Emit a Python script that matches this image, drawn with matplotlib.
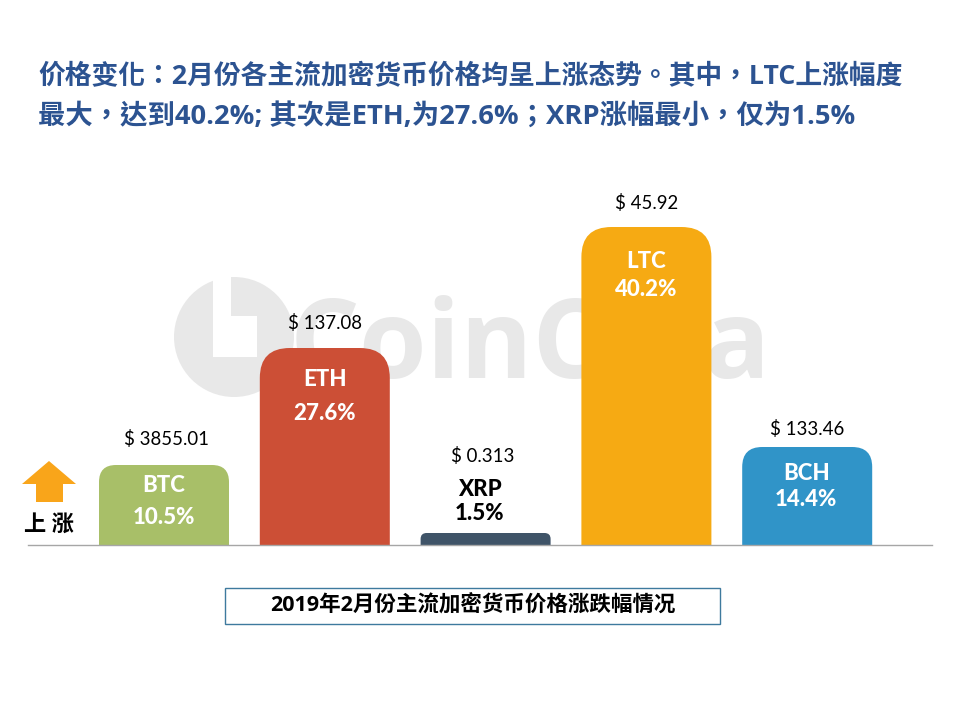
import matplotlib
matplotlib.use('Agg')
import matplotlib.pyplot as plt
from matplotlib.patches import PathPatch, Circle, Rectangle, Polygon
from matplotlib.path import Path

FONTS = ['Lato', 'Noto Sans CJK TC', 'DejaVu Sans']
TITLE_FONTS = ['Open Sans', 'Noto Sans CJK TC', 'DejaVu Sans']
plt.rcParams['font.family'] = FONTS

# ---- Data ----
coins = ['BTC', 'ETH', 'XRP', 'LTC', 'BCH']
changes = ['10.5%', '27.6%', '1.5%', '40.2%', '14.4%']
prices = ['$ 3855.01', '$ 137.08', '$ 0.313', '$ 45.92', '$ 133.46']
bar_heights = [80, 197, 12, 318, 98]
title_lines = ['价格变化：2月份各主流加密货币价格均呈上涨态势。其中，LTC上涨幅度',
               '最大，达到40.2%; 其次是ETH,为27.6%；XRP涨幅最小，仅为1.5%']
caption = '2019年2月份主流加密货币价格涨跌幅情况'
up_label = '上 涨'

# ---- Style ----
colors = ['#A8BF68', '#CC4F36', '#3F5468', '#F6AA13', '#3094C8']
radii = [17, 30, 6, 30, 20]
label_colors = ['white', 'white', 'black', 'white', 'white']
# name/percent label heights above the baseline, px
name_y = [60, 166, 56, 284, 71]
pct_y = [28, 131, 31, 255, 46]
price_y = [106, 222, 89, 342, 116]
# sideways shift of the labels off the bar centre, px
label_dx = [0, 0, -6, 0, -1]
price_dx = [2, 0, -3, 0, 0]
title_sizes = [19.3, 19.7]
TITLE_COLOR = '#2C5391'
WATERMARK = '#E8E8E8'
STEP = 160.8

fig = plt.figure(figsize=(9.6, 7.2), dpi=100)

# page axes in pixel coordinates, for the watermark, arrow and caption
page = fig.add_axes([0, 0, 1, 1], zorder=0)
page.set_xlim(0, 960)
page.set_ylim(720, 0)
page.axis('off')

# logo: grey disc with a white L cut out
page.add_patch(Circle((234, 337), 60, fc=WATERMARK, ec='none'))
page.add_patch(Polygon([(213, 270), (231, 270), (231, 316), (257, 316), (257, 357), (213, 357)],
                       closed=True, fc='white', ec='none'))
page.text(290, 378, 'CoinCola', fontsize=79, fontweight='bold', color=WATERMARK,
          ha='left', va='baseline', family=['Open Sans', 'DejaVu Sans'])

# arrow and its label
page.add_patch(Polygon([(22, 484), (49, 461), (76, 484), (63, 484), (63, 502), (36, 502), (36, 484)],
                       closed=True, fc='#F9A51A', ec='none'))
page.text(49, 524, up_label, fontsize=16, fontweight='bold', color='black', ha='center', va='center')

for i, line in enumerate(title_lines):
    page.text(38, 77 + i * 39, line, fontsize=title_sizes[i], fontweight='bold', color=TITLE_COLOR,
              ha='left', va='center', family=TITLE_FONTS)

page.add_patch(Rectangle((225, 587.5), 495, 36, fc='white', ec='#3E7A9E', lw=1))
page.text(473, 606, caption, fontsize=15.5, fontweight='bold', color='black', ha='center', va='center',
          family=TITLE_FONTS)

# bar axes: one y unit is one pixel, categories are STEP px apart
ax = fig.add_axes([0, 175 / 720, 1, 545 / 720], zorder=1)
ax.patch.set_alpha(0)
ax.set_xlim(-164 / STEP, (960 - 164) / STEP)
ax.set_ylim(0, 545)
ax.axis('off')

BAR_W = 130 / STEP


def rounded_bar(x, h, r):
    # bar with rounded top corners only
    x0, x1 = x - BAR_W / 2, x + BAR_W / 2
    rx = r / STEP
    r = min(r, h)
    verts = [(x0, 0), (x0, h - r), (x0, h), (x0 + rx, h), (x1 - rx, h),
             (x1, h), (x1, h - r), (x1, 0), (x0, 0)]
    codes = [Path.MOVETO, Path.LINETO, Path.CURVE3, Path.CURVE3, Path.LINETO,
             Path.CURVE3, Path.CURVE3, Path.LINETO, Path.CLOSEPOLY]
    return Path(verts, codes)


for i, coin in enumerate(coins):
    ax.add_patch(PathPatch(rounded_bar(i, bar_heights[i], radii[i]), fc=colors[i], ec='none'))
    ax.text(i + label_dx[i] / STEP, name_y[i], coin, fontsize=16, fontweight=900, color=label_colors[i],
            ha='center', va='center')
    ax.text(i + label_dx[i] / STEP, pct_y[i], changes[i], fontsize=16, fontweight=900, color=label_colors[i],
            ha='center', va='center')
    ax.text(i + price_dx[i] / STEP, price_y[i], prices[i], fontsize=13.4, color='black', ha='center', va='center')

# baseline
ax.plot([(28 - 164) / STEP, (932 - 164) / STEP], [0, 0], color='#A6A6A6', lw=1, clip_on=False)

fig.savefig('out.png', dpi=100)
